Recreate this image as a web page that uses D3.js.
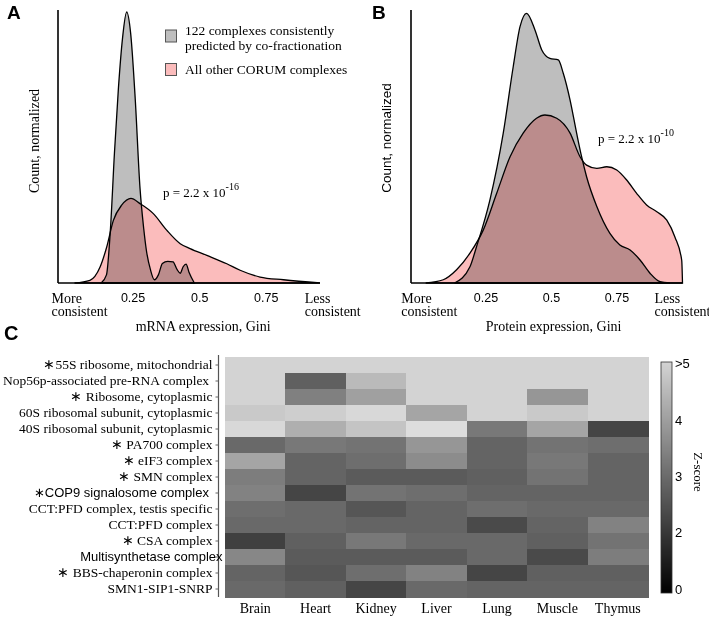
<!DOCTYPE html>
<html><head><meta charset="utf-8">
<script src="https://cdn.jsdelivr.net/npm/d3@7"></script>
<style>body{margin:0;background:#fff} svg{display:block}</style>
</head><body>
<svg id="chart" width="709" height="617"></svg>
<script>
// ---------------- DATA ----------------
const giniTicks = [0.25, 0.5, 0.75];
const giniTickLabels = ["0.25", "0.5", "0.75"];
const endLabelMore = ["More", "consistent"];
const endLabelLess = ["Less", "consistent"];

// Panel A: mRNA expression Gini densities [gini, normalized density]
const mrnaPredicted = [[0.13,0],[0.15,0.03],[0.165,0.2],[0.18,0.48],[0.195,0.72],[0.21,0.9],[0.226,1.0],[0.241,0.92],[0.258,0.68],[0.276,0.35],[0.29,0.2],[0.30,0.12],[0.315,0.05],[0.33,0.012],[0.345,0.03],[0.36,0.072],[0.38,0.08],[0.40,0.078],[0.415,0.05],[0.427,0.036],[0.438,0.06],[0.449,0.07],[0.46,0.04],[0.48,0]];
const mrnaOther = [[0.03,0],[0.088,0.01],[0.126,0.059],[0.151,0.133],[0.176,0.231],[0.207,0.287],[0.242,0.312],[0.276,0.293],[0.326,0.256],[0.377,0.194],[0.427,0.145],[0.464,0.127],[0.527,0.102],[0.602,0.071],[0.652,0.047],[0.727,0.022],[0.815,0.012],[0.952,0]];
// Panel B: protein expression Gini densities
const proteinPredicted = [[0.13,0],[0.189,0.06],[0.214,0.134],[0.265,0.306],[0.316,0.553],[0.354,0.798],[0.38,0.946],[0.405,0.995],[0.437,0.934],[0.463,0.86],[0.494,0.829],[0.526,0.823],[0.545,0.774],[0.571,0.675],[0.596,0.553],[0.615,0.466],[0.634,0.392],[0.673,0.282],[0.723,0.183],[0.761,0.14],[0.80,0.122],[0.838,0.085],[0.876,0.036],[0.914,0.005],[0.952,0]];
const proteinOther = [[0.02,0],[0.087,0.012],[0.138,0.049],[0.189,0.11],[0.24,0.196],[0.291,0.331],[0.342,0.466],[0.392,0.553],[0.443,0.608],[0.475,0.62],[0.52,0.608],[0.571,0.553],[0.609,0.466],[0.634,0.435],[0.673,0.423],[0.711,0.429],[0.749,0.417],[0.787,0.38],[0.825,0.331],[0.863,0.288],[0.902,0.263],[0.94,0.232],[0.971,0.17],[0.997,0.084],[1.0,0]];

const legendLabels = [["122 complexes consistently", "predicted by co-fractionation"], ["All other CORUM complexes"]];
const pValueA = ["p = 2.2 x 10", "-16"];
const pValueB = ["p = 2.2 x 10", "-10"];

// Panel C heatmap
const tissues = ["Brain", "Heart", "Kidney", "Liver", "Lung", "Muscle", "Thymus"];
const complexes = [
  "\u221755S ribosome, mitochondrial",
  "Nop56p-associated pre-RNA complex\u00a0",
  "\u2217 Ribosome, cytoplasmic",
  "60S ribosomal subunit, cytoplasmic",
  "40S ribosomal subunit, cytoplasmic",
  "\u2217 PA700 complex",
  "\u2217 eIF3 complex",
  "\u2217 SMN complex",
  "\u2217COP9 signalosome complex\u00a0",
  "CCT:PFD complex, testis specific",
  "CCT:PFD complex",
  "\u2217 CSA complex",
  "Multisynthetase complex",
  "\u2217 BBS-chaperonin complex",
  "SMN1-SIP1-SNRP"
];
const zScores = [
  [5.0, 5.0, 5.0, 5.0, 5.0, 5.0, 5.0],
  [5.0, 2.7, 4.5, 5.0, 5.0, 5.0, 5.0],
  [5.0, 3.35, 4.0, 5.0, 5.0, 3.8, 5.0],
  [4.8, 4.9, 5.1, 4.1, 5.0, 4.8, 5.0],
  [5.1, 4.3, 4.7, 5.2, 3.2, 4.1, 2.15],
  [2.9, 3.2, 3.1, 3.8, 2.8, 3.1, 3.0],
  [4.1, 2.8, 3.0, 3.6, 2.8, 3.2, 2.8],
  [3.3, 2.8, 2.6, 2.6, 2.7, 3.1, 2.8],
  [3.4, 2.15, 3.1, 3.0, 2.8, 2.8, 2.8],
  [3.0, 2.9, 2.5, 2.8, 3.0, 2.9, 2.9],
  [2.9, 2.9, 2.8, 2.8, 2.25, 2.8, 3.4],
  [2.05, 2.7, 3.2, 2.9, 2.9, 2.7, 3.1],
  [3.5, 2.6, 2.6, 2.6, 2.9, 2.25, 3.3],
  [2.8, 2.5, 3.0, 3.4, 2.15, 2.7, 2.7],
  [2.9, 2.7, 2.15, 2.9, 2.8, 2.8, 2.8]
];
const colorbarTicks = [0, 2, 3, 4, 5];
const colorbarTickLabels = ["0", "2", "3", "4", ">5"];
const sansRowLabels = ["\u2217COP9 signalosome complex\u00a0", "Multisynthetase complex"];

// ---------------- STYLE ----------------
const SERIF = "'Liberation Serif','Times New Roman',serif";
const SANS = "'Liberation Sans',Arial,Helvetica,sans-serif";
const GREY = "#bebebe", PINK = "#fbbcbc";

const svg = d3.select("#chart");

function densityPanel(cfg) {
  const g = svg.append("g");
  const x = d3.scaleLinear().domain(cfg.xDomain).range(cfg.xRange);
  const y = d3.scaleLinear().domain([0, 1]).range([283, 12]);
  const area = d3.area().curve(d3.curveMonotoneX)
    .x(d => x(d[0])).y0(y(0)).y1(d => y(d[1]));
  g.append("path").datum(cfg.predicted).attr("d", area)
    .attr("fill", GREY).attr("stroke", "#000").attr("stroke-width", 1.3);
  g.append("path").datum(cfg.other).attr("d", area)
    .attr("fill", PINK).attr("stroke", "#000").attr("stroke-width", 1.3)
    .style("mix-blend-mode", "multiply");
  // axes
  const [x0, x1] = x.range();
  g.append("line").attr("x1", x0).attr("x2", x1).attr("y1", y(0)).attr("y2", y(0))
    .attr("stroke", "#000").attr("stroke-width", 1.6);
  g.append("line").attr("x1", x0).attr("x2", x0).attr("y1", y(0)).attr("y2", 10)
    .attr("stroke", "#000").attr("stroke-width", 1.6);
  // tick labels
  g.selectAll("text.tick").data(giniTicks).join("text").attr("class", "tick")
    .attr("x", d => x(d)).attr("y", 302).attr("text-anchor", "middle")
    .attr("font-family", SANS).attr("font-size", 12.5)
    .text((d, i) => giniTickLabels[i]);
  [[endLabelMore, cfg.moreAt], [endLabelLess, 1.0]].forEach(([lines, v]) => {
    const t2 = g.append("text").attr("x", x(v)).attr("y", 316).attr("text-anchor", "middle")
      .attr("font-family", SERIF).attr("font-size", 14).text(lines[1]);
    const left = t2.node().getBBox().x;
    g.append("text").attr("x", left).attr("y", 302.5)
      .attr("font-family", SERIF).attr("font-size", 14).text(lines[0]);
  });
  g.append("text").attr("x", x(cfg.titleAt)).attr("y", 331).attr("text-anchor", "middle")
    .attr("font-family", SERIF).attr("font-size", 14).text(cfg.xTitle);
  // y title
  g.append("text").attr("transform", `translate(${cfg.yTitleX},${cfg.yTitleY}) rotate(-90)`)
    .attr("text-anchor", "middle").attr("font-family", cfg.yTitleFont)
    .attr("font-size", cfg.yTitleSize).text("Count, normalized");
  // p value
  const p = g.append("text").attr("x", cfg.pX).attr("y", cfg.pY)
    .attr("font-family", SERIF).attr("font-size", 13);
  p.append("tspan").text(cfg.pValue[0]);
  p.append("tspan").attr("dy", -7).attr("font-size", 10).text(cfg.pValue[1]);
  // panel letter
  svg.append("text").attr("x", cfg.letterX).attr("y", 18.5)
    .attr("font-family", SANS).attr("font-weight", "bold").attr("font-size", 19)
    .text(cfg.letter);
  return g;
}

densityPanel({
  xDomain: [-0.032, 0.952], xRange: [58, 320],
  predicted: mrnaPredicted, other: mrnaOther,
  moreAt: 0.049, titleAt: 0.513, xTitle: "mRNA expression, Gini",
  yTitleX: 39, yTitleY: 141, yTitleFont: SERIF, yTitleSize: 14,
  pX: 163, pY: 196.5, pValue: pValueA, letter: "A", letterX: 7
});
densityPanel({
  xDomain: [-0.036, 1.0], xRange: [411, 682.5],
  predicted: proteinPredicted, other: proteinOther,
  moreAt: 0.034, titleAt: 0.508, xTitle: "Protein expression, Gini",
  yTitleX: 391, yTitleY: 138, yTitleFont: SANS, yTitleSize: 13.5,
  pX: 598, pY: 142.5, pValue: pValueB, letter: "B", letterX: 372
});

// legend (panel A)
const legend = svg.append("g");
const legendFills = [GREY, PINK];
const legendBoxY = [30, 63.5];
const legendTextY = [[34.5, 49.5], [73.5]];
legendFills.forEach((f, i) => {
  legend.append("rect").attr("x", 165.5).attr("y", legendBoxY[i]).attr("width", 11).attr("height", 12)
    .attr("fill", f).attr("stroke", "#555").attr("stroke-width", 1);
  legendLabels[i].forEach((line, j) => {
    legend.append("text").attr("x", 185).attr("y", legendTextY[i][j])
      .attr("font-family", SERIF).attr("font-size", 13.5).text(line);
  });
});

// ---------------- PANEL C ----------------
const hx = d3.scaleBand().domain(tissues).range([225, 648]);
const hy = d3.scaleBand().domain(complexes).range([357, 597]);
const colorStops = ["#000000", "#3e3e3e", "#6e6e6e", "#a0a0a0", "#d3d3d3"];
const color = d3.scaleLinear().domain(colorbarTicks).range(colorStops);

const cells = [];
complexes.forEach((c, i) => tissues.forEach((t, j) => cells.push({c, t, v: zScores[i][j]})));
svg.append("g").selectAll("rect").data(cells).join("rect")
  .attr("x", d => hx(d.t)).attr("y", d => hy(d.c))
  .attr("width", hx.bandwidth() + 0.5).attr("height", hy.bandwidth() + 0.5)
  .attr("fill", d => color(d.v)).attr("shape-rendering", "crispEdges");

// row axis
const yAxisG = svg.append("g").attr("transform", "translate(218.5,0)")
  .call(d3.axisLeft(hy).tickSize(3).tickSizeOuter(0).tickPadding(3));
yAxisG.select(".domain").attr("stroke", "#555").attr("stroke-width", 1.2).attr("d", "M0,355V597");
yAxisG.selectAll(".tick line").attr("stroke", "#666");
yAxisG.selectAll(".tick text")
  .attr("font-family", d => sansRowLabels.includes(d) ? SANS : SERIF)
  .attr("font-size", d => sansRowLabels.includes(d) ? 13 : 13.5)
  .attr("fill", "#000")
  .attr("dx", d => d === "Multisynthetase complex" ? 10 : 0);

// column axis
const xAxisG = svg.append("g").attr("transform", "translate(0,597)")
  .call(d3.axisBottom(hx).tickSize(0).tickPadding(6));
xAxisG.select(".domain").remove();
xAxisG.selectAll(".tick text").attr("font-family", SERIF).attr("font-size", 14).attr("fill", "#000");

svg.append("text").attr("x", 4).attr("y", 340)
  .attr("font-family", SANS).attr("font-weight", "bold").attr("font-size", 20).text("C");

// colorbar
const cb = d3.scaleLinear().domain(colorbarTicks).range([589, 532, 476, 420, 363.5]);
const cbTop = 362, cbBottom = 593;
const cbG = svg.append("g");
const steps = d3.range(cbTop, cbBottom, 1);
cbG.selectAll("rect").data(steps).join("rect")
  .attr("x", 661).attr("y", d => d).attr("width", 11).attr("height", 1.2)
  .attr("fill", d => {
    const f = (cbBottom - d) / (cbBottom - cbTop);
    return d3.interpolateRgb("#000000", "#d3d3d3")(f);
  }).attr("shape-rendering", "crispEdges");
cbG.append("rect").attr("x", 661).attr("y", cbTop).attr("width", 11).attr("height", cbBottom - cbTop)
  .attr("fill", "none").attr("stroke", "#333").attr("stroke-width", 0.8);
cbG.selectAll("text").data(colorbarTicks).join("text")
  .attr("x", 675).attr("y", d => cb(d)).attr("dy", "0.36em")
  .attr("font-family", SANS).attr("font-size", 13)
  .text((d, i) => colorbarTickLabels[i]);
svg.append("text").attr("transform", "translate(694,472) rotate(90)")
  .attr("text-anchor", "middle").attr("font-family", SERIF).attr("font-size", 13).text("Z-score");
</script>
</body></html>
